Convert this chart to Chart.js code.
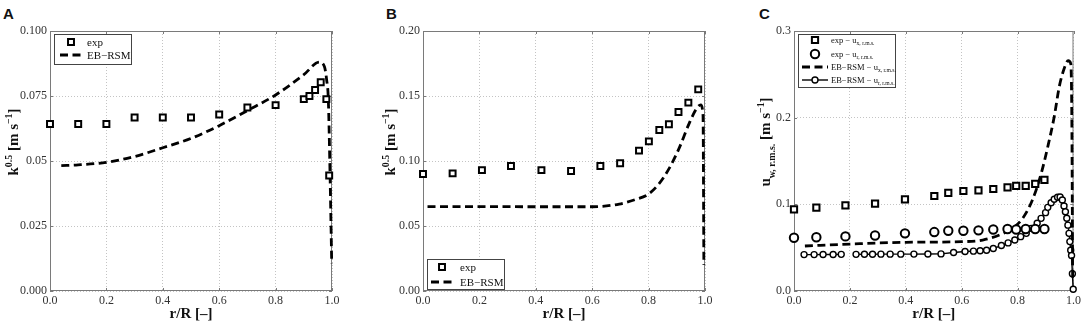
<!DOCTYPE html>
<html>
<head>
<meta charset="utf-8">
<script src="https://cdn.jsdelivr.net/npm/chart.js@4.4.0/dist/chart.umd.min.js"></script>
<style>
  body { margin: 0; background: #fff; width: 1084px; height: 321px; position: relative; overflow: hidden; }
  canvas { position: absolute; top: 0; }
  .tag { position: absolute; top: 6px; font: bold 15px/15px 'Liberation Sans', Arial, sans-serif; color: #111; }
</style>
</head>
<body>
<div class="tag" style="left:3px">A</div>
<div class="tag" style="left:386px">B</div>
<div class="tag" style="left:759px">C</div>
<canvas id="chartA" width="350" height="321" style="left:0px"></canvas>
<canvas id="chartB" width="350" height="321" style="left:373px"></canvas>
<canvas id="chartC" width="340" height="321" style="left:744px"></canvas>
<script>
// tick labels (as printed on the figure)
const xTicks = ['0.0', '0.2', '0.4', '0.6', '0.8', '1.0']
const aTicks = ['0.000', '0.025', '0.05', '0.075', '0.100']
const bTicks = ['0.00', '0.05', '0.10', '0.15', '0.20']
const cTicks = ['0.0', '0.1', '0.2', '0.3']

// panel A - k^0.5
const aExpX = [0, 0.1, 0.2, 0.3, 0.4, 0.5, 0.6, 0.7, 0.8, 0.9, 0.92, 0.94, 0.96, 0.98, 0.99]
const aExpY = [0.0642, 0.0642, 0.0642, 0.0667, 0.0667, 0.0667, 0.0679, 0.0706, 0.0715, 0.0738, 0.075, 0.0773, 0.0803, 0.0738, 0.0444]
const aSimX = [0.04, 0.1, 0.2, 0.3, 0.4, 0.5, 0.6, 0.7, 0.8, 0.9, 0.955, 0.973, 0.981, 0.987, 0.993, 0.999]
const aSimY = [0.0482, 0.0485, 0.0495, 0.0517, 0.0551, 0.0587, 0.0636, 0.0694, 0.0754, 0.0832, 0.088, 0.0863, 0.0812, 0.0735, 0.0453, 0.0107]

// panel B - k^0.5
const bExpX = [0, 0.105, 0.209, 0.312, 0.42, 0.525, 0.629, 0.699, 0.766, 0.801, 0.838, 0.872, 0.906, 0.941, 0.976]
const bExpY = [0.090, 0.0905, 0.093, 0.0962, 0.093, 0.0923, 0.0962, 0.0982, 0.108, 0.1151, 0.1238, 0.1282, 0.1377, 0.1449, 0.1551]
const bSimX = [0.016, 0.2, 0.4, 0.6, 0.696, 0.755, 0.8, 0.838, 0.873, 0.908, 0.944, 0.973, 0.985, 0.993, 0.996]
const bSimY = [0.0649, 0.0649, 0.0648, 0.0648, 0.0669, 0.0705, 0.0746, 0.0828, 0.0943, 0.1097, 0.129, 0.1413, 0.1431, 0.135, 0.02]

// panel C - u rms
const cExpX = [0, 0.08, 0.184, 0.29, 0.397, 0.502, 0.552, 0.606, 0.66, 0.713, 0.764, 0.795, 0.829, 0.863, 0.896]
const cExpUx = [0.0942, 0.0962, 0.0988, 0.1008, 0.1058, 0.1096, 0.1131, 0.1154, 0.1162, 0.1177, 0.1196, 0.1212, 0.1212, 0.1235, 0.1281]
const cExpUr = [0.0615, 0.062, 0.063, 0.064, 0.0665, 0.068, 0.0695, 0.0695, 0.070, 0.071, 0.0715, 0.071, 0.0715, 0.0715, 0.0715]
const cSimUxX = [0.039, 0.204, 0.4, 0.6, 0.675, 0.735, 0.782, 0.818, 0.853, 0.884, 0.908, 0.931, 0.949, 0.967, 0.981, 0.99, 0.994, 0.997]
const cSimUxY = [0.0519, 0.0542, 0.0562, 0.0569, 0.0588, 0.0646, 0.0723, 0.0838, 0.105, 0.135, 0.1665, 0.201, 0.2357, 0.257, 0.2657, 0.2627, 0.2, 0.01]
const cSimUrX = [0.036, 0.072, 0.104, 0.14, 0.169, 0.195, 0.222, 0.252, 0.281, 0.311, 0.344, 0.382, 0.429, 0.479, 0.526, 0.571,
  0.612, 0.642, 0.666, 0.689, 0.713, 0.742, 0.766, 0.79, 0.811, 0.831, 0.849, 0.87, 0.884, 0.9, 0.908, 0.92, 0.931, 0.943,
  0.952, 0.96, 0.966, 0.971, 0.976, 0.98, 0.984, 0.987, 0.99, 0.993, 0.996, 0.999]
const cSimUrY = [0.042, 0.042, 0.0422, 0.0422, 0.0423, null, 0.0423, 0.0424, 0.0424, 0.0425, 0.0425, 0.0425, 0.0426, 0.0427, 0.0428, 0.0445,
  0.0455, 0.046, 0.0465, 0.047, 0.049, 0.0525, 0.0555, 0.0588, 0.0627, 0.0665, 0.0723, 0.0781, 0.0838, 0.0904, 0.0965, 0.1019, 0.1058, 0.1081,
  0.1085, 0.105, 0.098, 0.0915, 0.084, 0.076, 0.0665, 0.057, 0.047, 0.041, 0.02, 0.002]

const FONT = "'Liberation Serif', 'Times New Roman', serif"

function pts(xs, ys) {
  return xs.map((x, i) => ({ x: x, y: ys[i] }))
}

function markers(data, style, r, label) {
  return { label: label, data: data, showLine: false, pointStyle: style, pointRadius: r, pointHoverRadius: r,
    pointBorderWidth: 2, pointBorderColor: '#000', pointBackgroundColor: '#fff', clip: false }
}

function dashed(data, label) {
  return { label: label, data: data, showLine: true, borderColor: '#000', borderWidth: 2.8, borderDash: [8, 4.5],
    pointRadius: 0, cubicInterpolationMode: 'monotone', clip: false }
}

// rich text with sub/superscripts
function drawRich(ctx, parts, x, y, size, weight, align) {
  const ps = parts.map(p => {
    const s = p[1] === 'n' ? size : size * 0.66
    ctx.font = weight + ' ' + s + 'px ' + FONT
    return { t: p[0], m: p[1], s: s, w: ctx.measureText(p[0]).width }
  })
  const total = ps.reduce((a, p) => a + p.w, 0)
  let cx = align === 'center' ? x - total / 2 : x
  ctx.textAlign = 'left'
  ctx.textBaseline = 'alphabetic'
  ps.forEach(p => {
    ctx.font = weight + ' ' + p.s + 'px ' + FONT
    const dy = p.m === 'sup' ? -size * 0.42 : (p.m === 'sub' ? size * 0.3 : 0)
    ctx.fillText(p.t, cx, y + dy)
    cx += p.w
  })
}

function drawMarker(ctx, style, r, x, y) {
  ctx.beginPath()
  if (style === 'rect') {
    const h = r * Math.SQRT1_2
    ctx.rect(x - h, y - h, 2 * h, 2 * h)
  } else {
    ctx.arc(x, y, r, 0, Math.PI * 2)
  }
  ctx.fill()
  ctx.stroke()
}

const framePlugin = {
  id: 'frame',
  beforeDatasetsDraw(chart) {
    const { ctx, chartArea: a, scales } = chart
    ctx.save()
    ctx.strokeStyle = '#7a7a7a'
    ctx.lineWidth = 1
    ctx.strokeRect(a.left + 0.5, a.top + 0.5, a.width - 1, a.height - 1)
    ctx.beginPath()
    scales.x.ticks.forEach(t => {
      const px = Math.round(scales.x.getPixelForValue(t.value)) + 0.5
      ctx.moveTo(px, a.bottom); ctx.lineTo(px, a.bottom - 3)
      ctx.moveTo(px, a.top); ctx.lineTo(px, a.top + 3)
    })
    scales.y.ticks.forEach(t => {
      const py = Math.round(scales.y.getPixelForValue(t.value)) + 0.5
      ctx.moveTo(a.left, py); ctx.lineTo(a.left + 3, py)
      ctx.moveTo(a.right, py); ctx.lineTo(a.right - 3, py)
    })
    ctx.stroke()
    ctx.restore()
  },
  afterDraw(chart, args, opts) {
    const { ctx, chartArea: a } = chart
    ctx.save()
    ctx.fillStyle = '#111'
    drawRich(ctx, [['r/R [\u2013]', 'n']], (a.left + a.right) / 2, 318, 15, 'bold', 'center')
    ctx.translate(opts.yTitleX, opts.yTitleY)
    ctx.rotate(-Math.PI / 2)
    drawRich(ctx, opts.yTitle, 0, 5, 15, 'bold', 'center')
    ctx.restore()

    // legend box
    const lg = opts.legend
    ctx.save()
    const bx = a.left + lg.box[0], by = a.top + lg.box[1]
    ctx.fillStyle = '#fff'
    ctx.strokeStyle = '#444'
    ctx.lineWidth = 1
    ctx.fillRect(bx, by, lg.box[2], lg.box[3])
    ctx.strokeRect(Math.round(bx) + 0.5, Math.round(by) + 0.5, lg.box[2], lg.box[3])
    lg.rows.forEach(row => {
      const ds = chart.data.datasets[row.ds]
      const y = a.top + row.y
      const x0 = a.left + lg.sample[0], x1 = a.left + lg.sample[1]
      if (ds.showLine) {
        ctx.save()
        ctx.strokeStyle = ds.borderColor
        ctx.lineWidth = ds.borderWidth
        ctx.setLineDash(ds.borderDash || [])
        ctx.beginPath(); ctx.moveTo(x0, y); ctx.lineTo(x1, y); ctx.stroke()
        ctx.restore()
      }
      if (ds.pointRadius > 0) {
        ctx.fillStyle = '#fff'
        ctx.strokeStyle = '#000'
        ctx.lineWidth = ds.pointBorderWidth
        drawMarker(ctx, ds.pointStyle, ds.pointRadius, (x0 + x1) / 2, y)
      }
      ctx.fillStyle = '#111'
      drawRich(ctx, row.label, a.left + lg.textX, y + lg.size * 0.33, lg.size, 'normal', 'left')
    })
    ctx.restore()
  }
}

function makePanel(id, cfg) {
  const tickFont = { family: FONT, size: 12 }
  return new Chart(document.getElementById(id), {
    type: 'scatter',
    data: { datasets: cfg.datasets },
    options: {
      responsive: false,
      animation: false,
      devicePixelRatio: 1,
      layout: { padding: { left: 0, right: cfg.padRight, top: 31, bottom: 0 } },
      plugins: { legend: { display: false }, tooltip: { enabled: false }, frame: cfg.frame },
      scales: {
        x: {
          type: 'linear', min: 0, max: 1,
          ticks: { stepSize: 0.2, font: tickFont, color: '#333', padding: 3, maxRotation: 0,
            callback: (v, i) => xTicks[i] },
          grid: { color: '#c4c4c4', drawTicks: false },
          border: { display: false, dash: [1, 2] },
          afterFit: s => { s.height = 30 }
        },
        y: {
          min: 0, max: cfg.yMax,
          ticks: { stepSize: cfg.yStep, font: tickFont, color: '#333', padding: 3,
            callback: (v, i) => cfg.yTicks[i] },
          grid: { color: '#c4c4c4', drawTicks: false },
          border: { display: false, dash: [1, 2] },
          afterFit: s => { s.width = 50 }
        }
      }
    },
    plugins: [framePlugin]
  })
}

const kTitle = [['k', 'n'], ['0.5', 'sup'], [' [m s', 'n'], ['\u22121', 'sup'], [']', 'n']]

makePanel('chartA', {
  padRight: 18, yMax: 0.1, yStep: 0.025, yTicks: aTicks,
  datasets: [markers(pts(aExpX, aExpY), 'rect', 4.2, 'exp'), dashed(pts(aSimX, aSimY), 'EB-RSM')],
  frame: {
    yTitle: kTitle, yTitleX: 13, yTitleY: 142,
    legend: { box: [4, 3, 77, 30], sample: [10, 32], textX: 37, size: 11,
      rows: [{ ds: 0, y: 11, label: [['exp', 'n']] }, { ds: 1, y: 24, label: [['EB\u2212RSM', 'n']] }] }
  }
})

makePanel('chartB', {
  padRight: 18, yMax: 0.2, yStep: 0.05, yTicks: bTicks,
  datasets: [markers(pts(bExpX, bExpY), 'rect', 4.2, 'exp'), dashed(pts(bSimX, bSimY), 'EB-RSM')],
  frame: {
    yTitle: kTitle, yTitleX: 17, yTitleY: 142,
    legend: { box: [4, 228, 77, 30], sample: [8, 30], textX: 37, size: 11,
      rows: [{ ds: 0, y: 236, label: [['exp', 'n']] }, { ds: 1, y: 251, label: [['EB\u2212RSM', 'n']] }] }
  }
})

const simUr = {
  label: 'EB-RSM u_r', data: pts(cSimUrX, cSimUrY), showLine: true, borderColor: '#000', borderWidth: 1.4,
  pointStyle: 'circle', pointRadius: 3, pointBorderWidth: 1.4, pointBorderColor: '#000',
  pointBackgroundColor: '#fff', spanGaps: false, clip: false
}

makePanel('chartC', {
  padRight: 9, yMax: 0.3, yStep: 0.1, yTicks: cTicks,
  datasets: [
    markers(pts(cExpX, cExpUx), 'rect', 4.4, 'exp u_x'),
    markers(pts(cExpX, cExpUr), 'circle', 4.2, 'exp u_r'),
    dashed(pts(cSimUxX, cSimUxY), 'EB-RSM u_x'),
    simUr
  ],
  frame: {
    yTitle: [['u', 'n'], ['w, r.m.s.', 'sub'], [' [m s', 'n'], ['\u22121', 'sup'], [']', 'n']],
    yTitleX: 21, yTitleY: 142,
    legend: { box: [4, 3, 97, 53], sample: [8, 34], textX: 37, size: 8.5,
      rows: [
        { ds: 0, y: 9, label: [['exp \u2212 u', 'n'], ['x, r.m.s.', 'sub']] },
        { ds: 1, y: 23, label: [['exp \u2212 u', 'n'], ['r, r.m.s.', 'sub']] },
        { ds: 2, y: 36, label: [['EB\u2212RSM \u2212 u', 'n'], ['x, r.m.s.', 'sub']] },
        { ds: 3, y: 49, label: [['EB\u2212RSM \u2212 u', 'n'], ['r, r.m.s.', 'sub']] }
      ] }
  }
})
</script>
</body>
</html>
